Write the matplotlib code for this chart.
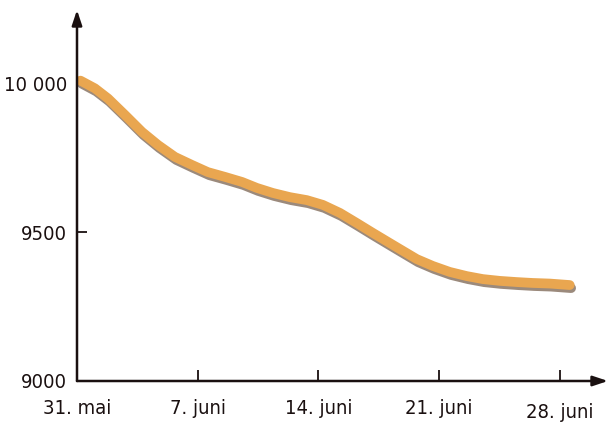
import numpy as np
import matplotlib
matplotlib.use("Agg")
import matplotlib.pyplot as plt
import matplotlib.patheffects as pe

# days after 31. mai and index level
days = [0.2, 1.04, 1.80, 2.78, 3.77, 4.70, 5.68, 6.67, 7.59, 8.58, 9.57, 10.43, 11.36, 12.35,
        13.33, 14.26, 15.25, 16.23, 17.16, 18.14, 18.72, 19.71, 20.64, 21.62, 22.61, 23.54,
        24.52, 25.51, 26.43, 27.42, 28.58]
level = [10008, 9982, 9948, 9893, 9836, 9792, 9752, 9725, 9701, 9685, 9668, 9648, 9631, 9617,
         9607, 9591, 9564, 9530, 9497, 9463, 9443, 9409, 9386, 9366, 9352, 9342,
         9336, 9332, 9329, 9327, 9322]

xtick_pos = [0, 7, 14, 21, 28]
xtick_lab = ["31. mai", "7. juni", "14. juni", "21. juni", "28. juni"]
ytick_pos = [9000, 9500, 10000]
ytick_lab = ["9000", "9500", "10 000"]

fig = plt.figure(figsize=(6.1, 4.26), dpi=100)
ax = fig.add_axes([77 / 610, 45 / 426, 531 / 610, 371 / 426])
ax.set_xlim(0, 30.8)
ax.set_ylim(9000, 10245)

for s in ax.spines.values():
    s.set_visible(False)

# axes with arrow heads
for tip in [(1, 0), (0, 1)]:
    ax.annotate("", xy=tip, xytext=(0, 0), xycoords="axes fraction",
                arrowprops=dict(arrowstyle="-|>,head_length=0.9,head_width=0.3", lw=1.8,
                                color="#1a1010", shrinkA=0, shrinkB=0))

ax.plot(days, level, color="#e9a650", lw=7, solid_capstyle="round", solid_joinstyle="round",
        path_effects=[pe.SimpleLineShadow(offset=(1.0, -2.2), shadow_color="#4a2a10", alpha=0.55),
                      pe.Normal()])

ax.set_xticks(xtick_pos)
ax.set_xticklabels(xtick_lab)
ax.set_yticks(ytick_pos)
ax.set_yticklabels(ytick_lab)
for lab in ax.get_xticklabels() + ax.get_yticklabels():
    lab.set_family("DejaVu Sans")
    lab.set_stretch("condensed")
    lab.set_fontsize(14.5)
    lab.set_color("#1a1010")
ax.tick_params(axis="x", direction="in", length=8, width=1.3, color="#1a1010", pad=13)
ax.tick_params(axis="y", direction="in", length=7, width=1.3, color="#1a1010", pad=7)
ax.get_xticklabels()[-1].set_y(-0.01)
ax.xaxis.get_major_ticks()[0].tick1line.set_visible(False)
ax.yaxis.get_major_ticks()[0].tick1line.set_visible(False)

fig.savefig("out.png", dpi=100, facecolor="white")
